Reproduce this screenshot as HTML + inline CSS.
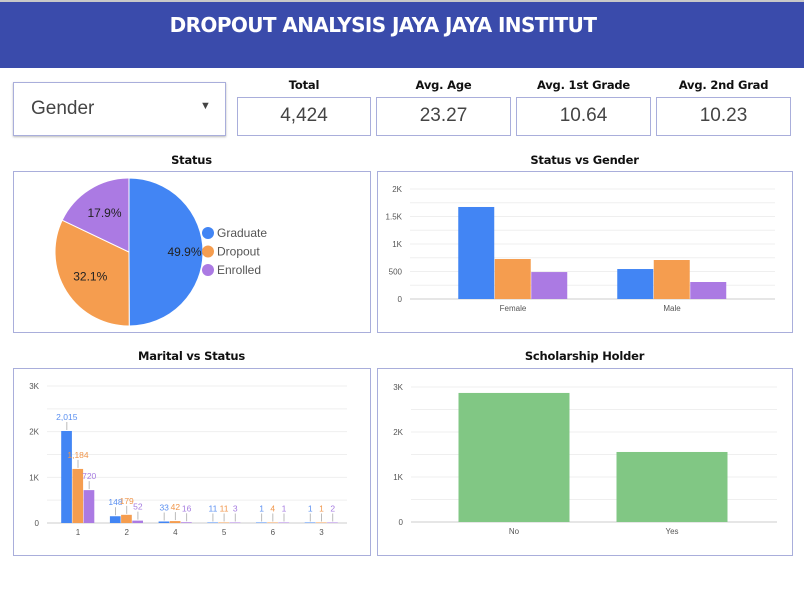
<!DOCTYPE html>
<html><head><meta charset="utf-8"><style>
body{margin:0;width:804px;height:596px;background:#fff;font-family:"Liberation Sans",sans-serif;position:relative;overflow:hidden}
.abs{position:absolute}
.hdr{left:0;top:0;width:804px;height:66px;background:#3a4bab;border-top:2px solid #c8c8c8}
.ttl{left:0;width:766px;top:13px;text-align:center;color:#fff;font-weight:bold;font-size:20px;font-family:"DejaVu Sans",sans-serif;letter-spacing:-0.6px}
.box{border:1.5px solid #a9aedb;box-sizing:border-box;background:#fff}
.klab{font-weight:bold;font-size:11.5px;text-align:center;font-family:"DejaVu Sans",sans-serif;color:#111;letter-spacing:-0.2px}
.kval{font-size:19px;color:#444;text-align:center;line-height:36px}
.ctitle{font-weight:bold;font-size:11.5px;text-align:center;font-family:"DejaVu Sans",sans-serif;color:#111;letter-spacing:-0.2px}
svg text{font-family:"Liberation Sans",sans-serif}
</style></head><body>
<div class="abs hdr"></div>
<div class="abs ttl">DROPOUT ANALYSIS JAYA JAYA INSTITUT</div>

<div class="abs box" style="left:13px;top:82px;width:213px;height:54px;box-shadow:0 1px 2px #bbb">
<span class="abs" style="left:17px;top:15px;font-size:19px;color:#444">Gender</span>
<span class="abs" style="left:186px;top:17px;font-size:11px;color:#444">&#9660;</span></div>

<div class="abs klab" style="left:237px;top:78px;width:134px">Total</div>
<div class="abs box kval" style="left:237px;top:97px;width:134px;height:39px">4,424</div>
<div class="abs klab" style="left:376px;top:78px;width:135px">Avg. Age</div>
<div class="abs box kval" style="left:376px;top:97px;width:135px;height:39px">23.27</div>
<div class="abs klab" style="left:516px;top:78px;width:135px">Avg. 1st Grade</div>
<div class="abs box kval" style="left:516px;top:97px;width:135px;height:39px">10.64</div>
<div class="abs klab" style="left:656px;top:78px;width:135px">Avg. 2nd Grad</div>
<div class="abs box kval" style="left:656px;top:97px;width:135px;height:39px">10.23</div>

<div class="abs ctitle" style="left:13px;top:153px;width:357px">Status</div>
<div class="abs ctitle" style="left:377px;top:153px;width:415px">Status vs Gender</div>
<div class="abs ctitle" style="left:13px;top:349px;width:357px">Marital vs Status</div>
<div class="abs ctitle" style="left:377px;top:349px;width:415px">Scholarship Holder</div>

<div class="abs box" style="left:13px;top:171px;width:358px;height:162px"></div>
<div class="abs box" style="left:377px;top:171px;width:416px;height:162px"></div>
<div class="abs box" style="left:13px;top:368px;width:358px;height:188px"></div>
<div class="abs box" style="left:377px;top:368px;width:416px;height:188px"></div>

<svg id="svg" class="abs" style="left:0;top:0" width="804" height="596"></svg>

<script>
const C=["#4285f4","#f59d4f","#ab7ae3"];
const statusNames=["Graduate","Dropout","Enrolled"];
const statusPct=[49.9,32.1,17.9];
const genderCats=["Female","Male"];
const genderGrad=[1673,545];
const genderDrop=[727,709];
const genderEnr=[490,309];
const genderTicks=[0,500,1000,1500,2000];
const genderTickLabels=["0","500","1K","1.5K","2K"];
const maritalCats=["1","2","4","5","6","3"];
const maritalGrad=[2015,148,33,11,1,1];
const maritalDrop=[1184,179,42,11,4,1];
const maritalEnr=[720,52,16,3,1,2];
const kTicks=[0,1000,2000,3000];
const kTickLabels=["0","1K","2K","3K"];
const scholCats=["No","Yes"];
const scholVals=[2868,1556];

const svg=document.getElementById('svg');
const NS="http://www.w3.org/2000/svg";
function mk(t,a,p){const e=document.createElementNS(NS,t);for(const k in a)e.setAttribute(k,a[k]);(p||svg).appendChild(e);return e;}
function tx(x,y,s,a){const e=mk('text',Object.assign({x:x,y:y},a));e.textContent=s;return e;}

// Pie
(function(){
 const cx=129,cy=252,r=74;let a0=0;
 const total=statusPct.reduce((a,b)=>a+b,0);
 statusPct.forEach((v,i)=>{
  const a1=a0+v/total*2*Math.PI;
  const x0=cx+r*Math.sin(a0),y0=cy-r*Math.cos(a0),x1=cx+r*Math.sin(a1),y1=cy-r*Math.cos(a1);
  const p=mk('path',{d:`M${cx},${cy}L${x0},${y0}A${r},${r} 0 ${a1-a0>Math.PI?1:0} 1 ${x1},${y1}Z`,fill:C[i],stroke:'#fff','stroke-width':1});
  
  
  const am=(a0+a1)/2,lr=r*0.62;
  let lx=cx+lr*Math.sin(am),ly=cy-lr*Math.cos(am);
  if(i===0){lx=cx+r*0.75;ly=cy;}
  const t=tx(lx,ly+4,statusPct[i].toFixed(1)+'%',{'font-size':12,fill:'#222','text-anchor':'middle','font-family':'DejaVu Sans'});
  
  
  a0=a1;
  const g=mk('circle',{cx:208,cy:233+i*18.5,r:6,fill:C[i]});
  
  
  const lt=tx(217,237+i*18.5,statusNames[i],{'font-size':12,fill:'#555','font-family':'DejaVu Sans'});
  
  
 });
})();

function axes(x0,x1,yb,yt,maxV,ticks,labels,name){
 const y=v=>yb-(v/maxV)*(yb-yt);
 const step=ticks[1]-ticks[0];
 for(let v=0;v<=maxV+1e-6;v+=step/2){
  const l=mk('line',{x1:x0,x2:x1,y1:y(v),y2:y(v),stroke:v===0?'#ccc':'#efefef','stroke-width':1});
  
  
 }
 ticks.forEach((v,i)=>{const t=tx(x0-8,y(v)+3,labels[i],{'font-size':8,fill:'#555','text-anchor':'end'});
  
  });
 return y;
}

// Status vs Gender
(function(){
 const x0=410,x1=775,yb=299,yt=189;
 const y=axes(x0,x1,yb,yt,2000,genderTicks,genderTickLabels,'gender-chart');
 const centers=[513,672],bw=36.5;
 const series=[genderGrad,genderDrop,genderEnr];
 genderCats.forEach((c,ci)=>{
  series.forEach((s,si)=>{
   const bx=centers[ci]-1.5*bw+si*bw;
   const r=mk('rect',{x:bx,y:y(s[ci]),width:bw-0.5,height:yb-y(s[ci]),fill:C[si]});
   
   
  });
  const t=tx(centers[ci],311,c,{'font-size':8,fill:'#555','text-anchor':'middle'});
  
  
 });
})();

// Marital
(function(){
 const x0=47,x1=347,yb=523,yt=386;
 const y=axes(x0,x1,yb,yt,3000,kTicks,kTickLabels,'marital-chart');
 const bw=11.2,sp=48.7,c0=78;
 const series=[maritalGrad,maritalDrop,maritalEnr];
 const lc=["#5a8ff0","#f0954a","#a57be0"];
 maritalCats.forEach((c,ci)=>{
  const cx=c0+ci*sp;
  series.forEach((s,si)=>{
   const bx=cx-1.5*bw+si*bw;
   const h=Math.max(yb-y(s[ci]),0.5);
   const r=mk('rect',{x:bx,y:yb-h,width:bw-0.5,height:h,fill:C[si]});
   
   
   const top=yb-h, lx=bx+bw/2;
   const ln=mk('line',{x1:lx,x2:lx,y1:top-1,y2:top-9,stroke:'#bbb','stroke-width':1});
   
   
   const t=tx(lx,top-11,s[ci].toLocaleString('en-US'),{'font-size':8.5,fill:lc[si],'text-anchor':'middle'});
   
   
  });
  const t=tx(cx,535,c,{'font-size':8,fill:'#555','text-anchor':'middle'});
  
  
 });
})();

// Scholarship
(function(){
 const x0=411,x1=777,yb=522,yt=387;
 const y=axes(x0,x1,yb,yt,3000,kTicks,kTickLabels,'scholarship-chart');
 const centers=[514,672],bw=111;
 scholCats.forEach((c,i)=>{
  const r=mk('rect',{x:centers[i]-bw/2,y:y(scholVals[i]),width:bw,height:yb-y(scholVals[i]),fill:'#81c784'});
  
  
  const t=tx(centers[i],534,c,{'font-size':8,fill:'#555','text-anchor':'middle'});
  
  
 });
})();
</script>
</body></html>
